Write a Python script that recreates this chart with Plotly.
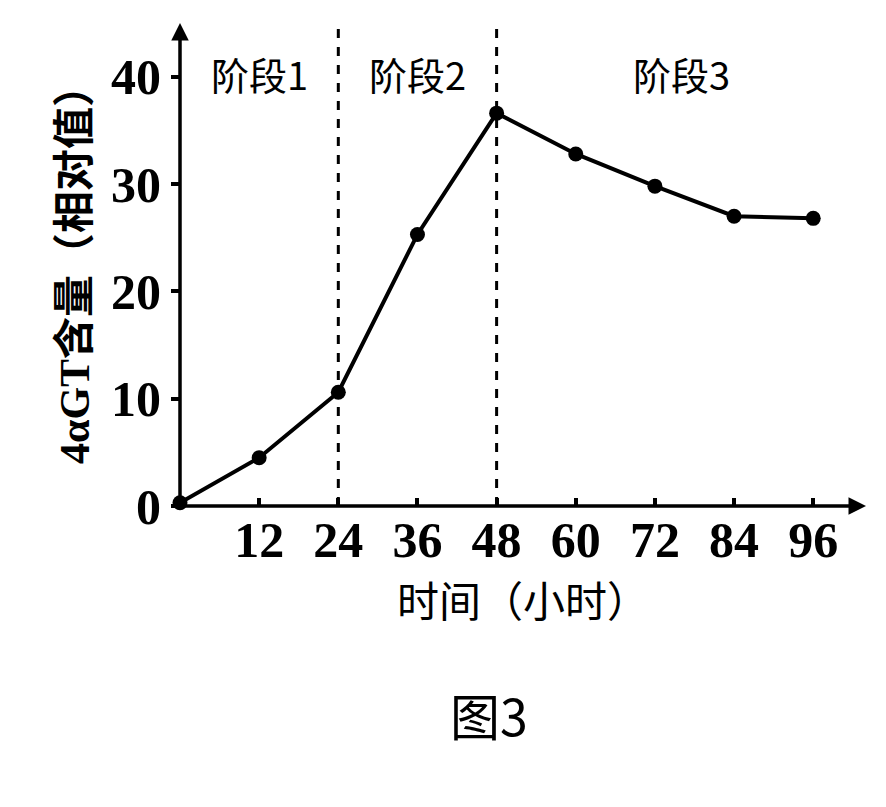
import plotly.graph_objects as go

hours = [0, 12, 24, 36, 48, 60, 72, 84, 96]
content = [0.3, 4.5, 10.6, 25.3, 36.6, 32.8, 29.8, 27.0, 26.8]
x_ticks = [12, 24, 36, 48, 60, 72, 84, 96]
y_ticks = [0, 10, 20, 30, 40]
stages = ["阶段1", "阶段2", "阶段3"]
stage_x = [12, 36, 76]
boundaries = [24, 48]

XMAX, YMAX = 104, 45
fig = go.Figure(go.Scatter(x=hours, y=content, mode="lines+markers",
                           line=dict(color="black", width=4),
                           marker=dict(color="black", size=15), cliponaxis=False))
for b in boundaries:
    fig.add_shape(type="line", x0=b, x1=b, y0=0, y1=YMAX, line=dict(color="black", width=3, dash="dash"))
for s, x in zip(stages, stage_x):
    fig.add_annotation(x=x, y=40.3, text=s, showarrow=False,
                       font=dict(family="Noto Sans CJK SC", size=38, color="black"))
fig.add_annotation(x=XMAX, y=0, ax=0, ay=0, axref="x", ayref="y", xref="x", yref="y", text="",
                   showarrow=True, arrowhead=2, arrowsize=1, arrowwidth=3.5, arrowcolor="black")
fig.add_annotation(x=0, y=YMAX, ax=0, ay=0, axref="x", ayref="y", xref="x", yref="y", text="",
                   showarrow=True, arrowhead=2, arrowsize=1, arrowwidth=3.5, arrowcolor="black")
fig.add_annotation(x=0.45, y=-0.51, xref="paper", yref="paper", text="图3", showarrow=False,
                   font=dict(family="Noto Sans CJK SC", size=50, color="black"))

tickfont = dict(family="Liberation Serif", size=50, color="black", weight="bold")
fig.update_layout(
    width=886, height=807, plot_bgcolor="white", paper_bgcolor="white", showlegend=False,
    margin=dict(l=172, r=28, t=15, b=309),
    xaxis=dict(range=[0, XMAX], tickvals=x_ticks, ticks="inside", ticklen=8, tickwidth=3.5,
               tickcolor="black", showgrid=False, zeroline=False, showline=False, tickfont=tickfont,
               title=dict(text="时间（小时）", font=dict(family="Noto Sans CJK SC", size=42, color="black"), standoff=15)),
    yaxis=dict(range=[0, YMAX], tickvals=y_ticks, ticks="outside", ticklen=8, tickwidth=3.5,
               tickcolor="black", showgrid=False, zeroline=False, showline=False, tickfont=tickfont,
               title=dict(text="4αGT含量（相对值）", font=dict(family="Liberation Serif, Noto Sans CJK SC", size=42, color="black", weight="bold"), standoff=8)),
)
fig.write_html("out.html")
